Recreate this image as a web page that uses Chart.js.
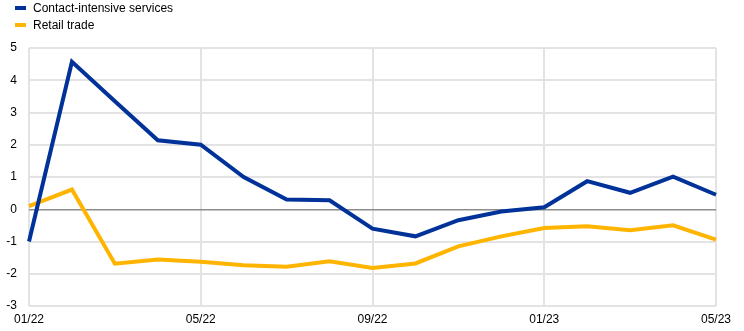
<!DOCTYPE html>
<html>
<head>
<meta charset="utf-8">
<script src="https://cdn.jsdelivr.net/npm/chart.js@4"></script>
<style>
  html, body { margin: 0; padding: 0; background: #fff; }
  #wrap { position: relative; width: 744px; height: 331px; }
  #legend { position: absolute; left: 15px; top: 0; font: 12px "Liberation Sans", Arial, sans-serif; color: #000; }
  #legend div { height: 17px; line-height: 17px; white-space: nowrap; }
  #legend span { display: inline-block; width: 11px; height: 4px; vertical-align: middle; margin-right: 7px; position: relative; top: -1px; }
</style>
</head>
<body>
<div id="wrap">
  <div id="legend"></div>
  <canvas id="chart" width="744" height="331"></canvas>
</div>
<script>
const months = ["01/22","02/22","03/22","04/22","05/22","06/22","07/22","08/22","09/22","10/22","11/22","12/22","01/23","02/23","03/23","04/23","05/23"];
const contactServices = [-1.0, 4.57, 3.35, 2.14, 2.0, 1.0, 0.3, 0.28, -0.6, -0.84, -0.34, -0.07, 0.06, 0.87, 0.51, 1.01, 0.45];
const retailTrade = [0.1, 0.61, -1.69, -1.56, -1.63, -1.74, -1.78, -1.61, -1.82, -1.68, -1.15, -0.84, -0.58, -0.53, -0.65, -0.5, -0.94];
const seriesNames = ["Contact-intensive services", "Retail trade"];
const seriesColors = ["#003299", "#ffb400"];

// legend sits above the plot, one row per series
document.getElementById("legend").innerHTML = seriesNames.map((n, i) =>
  `<div><span style="background:${seriesColors[i]}"></span>${n}</div>`).join("");

Chart.defaults.font.family = '"Liberation Sans", Arial, sans-serif';
Chart.defaults.font.size = 12;
Chart.defaults.color = "#000";

new Chart(document.getElementById("chart").getContext("2d"), {
  type: "line",
  data: {
    labels: months,
    datasets: [
      { label: seriesNames[0], data: contactServices, borderColor: seriesColors[0], borderWidth: 4, pointRadius: 0, tension: 0 },
      { label: seriesNames[1], data: retailTrade, borderColor: seriesColors[1], borderWidth: 4, pointRadius: 0, tension: 0 }
    ]
  },
  options: {
    responsive: false,
    animation: false,
    layout: { padding: { top: 48, right: 28, bottom: 0, left: 0 } },
    plugins: { legend: { display: false }, tooltip: { enabled: false } },
    scales: {
      x: {
        offset: false,
        grid: { drawTicks: false, lineWidth: 2, color: ctx => (ctx.index % 4 === 0 ? "#e3e3e3" : "rgba(0,0,0,0)") },
        border: { display: false },
        ticks: { autoSkip: false, maxRotation: 0, padding: 6, callback: (v, i) => (i % 4 === 0 ? months[i] : "") },
        afterFit: s => { s.height = 25; }
      },
      y: {
        min: -3, max: 5,
        grid: { drawTicks: false, lineWidth: ctx => (ctx.tick.value === 0 ? 1.5 : 2), color: ctx => (ctx.tick.value === 0 ? "#8c8c8c" : "#e3e3e3") },
        border: { display: false },
        ticks: { stepSize: 1, padding: 12 },
        afterFit: s => { s.width = 29; }
      }
    }
  }
});
</script>
</body>
</html>
